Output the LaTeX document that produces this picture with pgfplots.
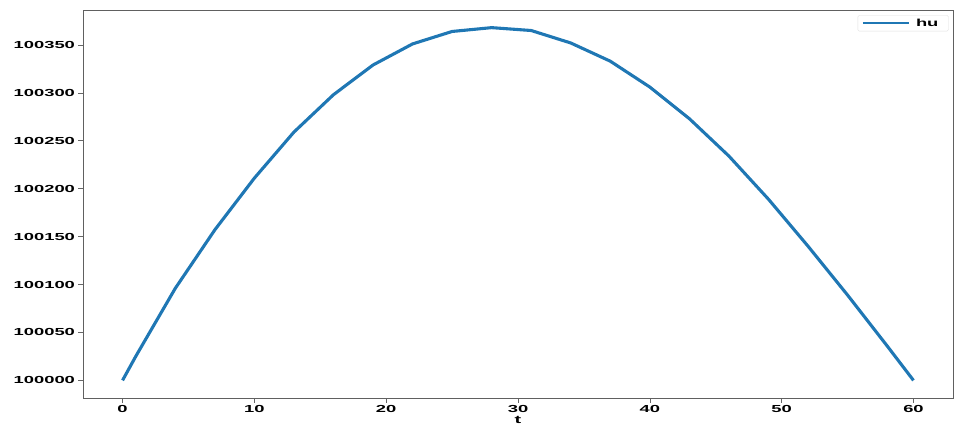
\documentclass[border=0pt]{standalone}
\usepackage{pgfplots}
\pgfplotsset{compat=1.18}
\usepackage{fontspec}
\setmainfont{Liberation Sans}[FakeStretch=1.8]
\definecolor{mplblue}{HTML}{1F77B4}
\begin{document}
\begin{tikzpicture}
  \begin{axis}[
      scale only axis,
      width=870pt, height=388pt,
      xmin=-3, xmax=63,
      ymin=99981.6, ymax=100386.4,
      xtick={0,10,...,60},
      ytick={100000,100050,...,100350},
      scaled y ticks=false,
      /pgf/number format/fixed,
      /pgf/number format/precision=0,
      /pgf/number format/1000 sep={},
      /pgf/number format/assume math mode=true,
      tick label style={font=\fontsize{10.2}{12}\selectfont\bfseries},
      xticklabel style={yshift=1pt},
      tick align=outside,
      xtick pos=left, ytick pos=left,
      major tick length=4.5pt,
      every tick/.style={gray!80!black, line width=0.6pt},
      axis line style={gray!75!black, line width=0.8pt},
      xlabel={t},
      xlabel style={font=\fontsize{11}{12}\selectfont\bfseries, yshift=3pt},
      legend style={at={(0.995,0.987)}, anchor=north east,
        draw=gray!25, rounded corners=1.5pt,
        font=\fontsize{10.2}{12}\selectfont\bfseries,
        inner xsep=4pt, inner ysep=1.5pt,
        nodes={inner xsep=6pt}},
      legend image code/.code={\draw[#1, line width=2.2pt] (0pt,0pt) -- (46pt,0pt);},
    ]
    \addplot[mplblue, line width=3.1pt, line join=round] coordinates {
      (0, 100000)
      (1, 100025)
      (4, 100096)
      (7, 100157)
      (10, 100211)
      (13, 100259)
      (16, 100298)
      (19, 100329)
      (22, 100351)
      (25, 100364)
      (28, 100368)
      (31, 100365)
      (34, 100352)
      (37, 100333)
      (40, 100306)
      (43, 100273)
      (46, 100234)
      (49, 100189)
      (52, 100140)
      (55, 100089)
      (58, 100036)
      (60, 100000)
    };
    \addlegendentry{hu}
  \end{axis}
  \path (current axis.south west) ++(-83pt,-26pt) coordinate (bbsw);
  \path (current axis.north east) ++(7pt,10pt) coordinate (bbne);
  \useasboundingbox (bbsw) rectangle (bbne);
\end{tikzpicture}
\end{document}
